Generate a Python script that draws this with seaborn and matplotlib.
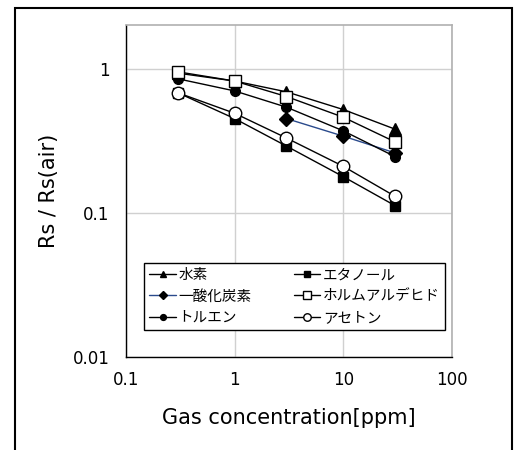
import seaborn as sns
import matplotlib.pyplot as plt
import matplotlib.patches as mpatches
from matplotlib.ticker import FixedLocator, FixedFormatter, NullLocator
import pandas as pd

# data
conc = [0.3, 1, 3, 10, 30]
hydrogen = [0.93, 0.82, 0.69, 0.52, 0.38]
co_conc = [3, 10, 30]
carbon_monoxide = [0.45, 0.34, 0.26]
toluene = [0.85, 0.70, 0.54, 0.37, 0.245]
ethanol = [0.68, 0.45, 0.29, 0.178, 0.112]
formaldehyde = [0.95, 0.82, 0.64, 0.46, 0.31]
acetone = [0.68, 0.49, 0.33, 0.21, 0.13]

names = ["水素", "一酸化炭素", "トルエン", "エタノール", "ホルムアルデヒド", "アセトン"]
xs = [conc, co_conc, conc, conc, conc, conc]
ys = [hydrogen, carbon_monoxide, toluene, ethanol, formaldehyde, acetone]

rows = []
for n, xv, yv in zip(names, xs, ys):
    for a, b in zip(xv, yv):
        rows.append({"gas": n, "ppm": a, "ratio": b})
df = pd.DataFrame(rows)

styles = {
    "水素": dict(marker="^", color="black", mfc="black", ms=8),
    "一酸化炭素": dict(marker="D", color="#2a4a8c", mfc="black", ms=7),
    "トルエン": dict(marker="o", color="black", mfc="black", ms=7),
    "エタノール": dict(marker="s", color="black", mfc="black", ms=7),
    "ホルムアルデヒド": dict(marker="s", color="black", mfc="white", ms=9),
    "アセトン": dict(marker="o", color="black", mfc="white", ms=9),
}

sns.set_style("white")
plt.rcParams['font.family'] = ['DejaVu Sans', 'Noto Sans CJK JP']
plt.rcParams['text.color'] = 'black'
plt.rcParams['axes.labelcolor'] = 'black'
plt.rcParams['xtick.color'] = 'black'
plt.rcParams['ytick.color'] = 'black'

fig = plt.figure(figsize=(5.28, 4.5), dpi=100)
ax = fig.add_axes([0.2386, 0.2067, 0.6174, 0.7373])

for n in names:
    st = styles[n]
    sns.lineplot(data=df[df.gas == n], x="ppm", y="ratio", ax=ax, label=n,
                 color=st["color"], marker=st["marker"], markersize=st["ms"],
                 markerfacecolor=st["mfc"], markeredgecolor="black",
                 markeredgewidth=1, linewidth=1, estimator=None, sort=False)

ax.set_xscale("log")
ax.set_yscale("log")
ax.set_xlim(0.1, 100)
ax.set_ylim(0.01, 2.0)

ax.xaxis.set_major_locator(FixedLocator([0.1, 1, 10, 100]))
ax.xaxis.set_major_formatter(FixedFormatter(["0.1", "1", "10", "100"]))
ax.yaxis.set_major_locator(FixedLocator([0.01, 0.1, 1]))
ax.yaxis.set_major_formatter(FixedFormatter(["0.01", "0.1", "1"]))
ax.xaxis.set_minor_locator(NullLocator())
ax.yaxis.set_minor_locator(NullLocator())

ax.grid(True, color="#d0d0d0", linewidth=1)
ax.tick_params(axis="y", direction="out", length=4, labelsize=12, pad=8)
ax.tick_params(axis="x", direction="in", length=4, labelsize=12, pad=10)

for s in ["left", "bottom"]:
    ax.spines[s].set_color("black")
    ax.spines[s].set_linewidth(1)
for s in ["top", "right"]:
    ax.spines[s].set_color("#b0b0b0")
    ax.spines[s].set_linewidth(1.2)

ax.set_xlabel("Gas concentration[ppm]", fontsize=15, labelpad=14)
ax.set_ylabel("Rs / Rs(air)", fontsize=15, labelpad=10)

leg = ax.legend(loc="upper left", bbox_to_anchor=(0.034, 0.305), ncol=2,
                markerscale=0.6, handlelength=1.8,
                handletextpad=0.2, columnspacing=2.9, labelspacing=0.5,
                fancybox=False, framealpha=1, borderpad=0.35,
                prop={"family": ["Noto Sans CJK JP", "DejaVu Sans"], "size": 10.5})
leg.get_frame().set_edgecolor("black")
leg.get_frame().set_linewidth(1)

frame = mpatches.Rectangle((15 / 528, -0.1), 497 / 528, 1.1 - 8 / 450,
                           transform=fig.transFigure, fill=False,
                           edgecolor="black", linewidth=1.5)
fig.patches.append(frame)

fig.savefig("out.png", dpi=100)
plt.close(fig)
